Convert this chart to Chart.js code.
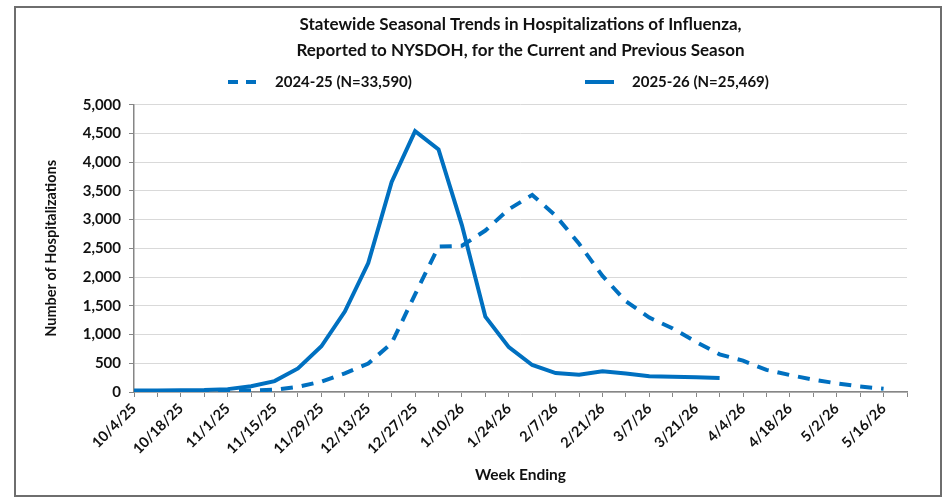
<!DOCTYPE html>
<html>
<head>
<meta charset="utf-8">
<script src="https://cdn.jsdelivr.net/npm/chart.js@4.4.1/dist/chart.umd.min.js"></script>
<style>
    html, body { margin: 0; padding: 0; background: #fff; }
    #marco { position: relative; width: 952px; height: 501px; }
    #borde { position: absolute; left: 14px; top: 6px; width: 928px; height: 491px; border: 2px solid #6e6e6e; box-sizing: border-box; pointer-events: none; }
</style>
</head>
<body>
<div id="marco">
    <canvas id="hospitalizaciones" width="952" height="501"></canvas>
    <div id="borde"></div>
</div>
<script>
// Semanas (fin de semana) del eje X, se etiqueta una si y otra no
const semanas = [
    '10/4/25', '10/11/25', '10/18/25', '10/25/25', '11/1/25', '11/8/25', '11/15/25', '11/22/25',
    '11/29/25', '12/6/25', '12/13/25', '12/20/25', '12/27/25', '1/3/26', '1/10/26', '1/17/26',
    '1/24/26', '1/31/26', '2/7/26', '2/14/26', '2/21/26', '2/28/26', '3/7/26', '3/14/26',
    '3/21/26', '3/28/26', '4/4/26', '4/11/26', '4/18/26', '4/25/26', '5/2/26', '5/9/26',
    '5/16/26', '5/23/26'
];

// Temporada anterior (linea discontinua)
const temporada2425 = [
    10, 12, 15, 18, 22, 25, 40, 90, 180, 325, 495, 850, 1700, 2530, 2545, 2810,
    3180, 3430, 3070, 2580, 2020, 1580, 1295, 1105, 870, 655, 545, 385, 295, 215,
    150, 95, 55
];

// Temporada actual (linea continua), termina en 3/28/26
const temporada2526 = [
    25, 25, 30, 35, 50, 100, 190, 410, 795, 1400, 2245, 3655, 4540, 4220, 2900, 1310,
    780, 470, 330, 300, 360, 320, 275, 265, 258, 245
];

const nombresSeries = ['2024-25 (N=33,590)', '2025-26 (N=25,469)'];
const tituloGrafica = [
    'Statewide Seasonal Trends in Hospitalizations of Influenza,',
    'Reported to NYSDOH, for the Current and Previous Season'
];
const limitesY = [0, 5000];
const pasoY = 500;

const azul = '#0070C0';
const fuente = 'Lato, "Open Sans", sans-serif';
Chart.defaults.font.family = fuente;
Chart.defaults.color = '#111';

// Leyenda dibujada a mano para poder separar los dos elementos como en el original
const leyendaFija = {
    id: 'leyendaFija',
    afterDraw(chart) {
        const ctx = chart.ctx;
        const posiciones = [228, 585];
        const y = 82;
        ctx.save();
        chart.data.datasets.forEach((ds, i) => {
            const x = posiciones[i];
            ctx.beginPath();
            ctx.strokeStyle = ds.borderColor;
            ctx.lineWidth = ds.borderWidth;
            ctx.setLineDash(i === 0 ? [10, 8] : []);
            ctx.moveTo(x, y);
            ctx.lineTo(x + 29, y);
            ctx.stroke();
            ctx.setLineDash([]);
            ctx.fillStyle = '#111';
            ctx.font = 'bold 15px ' + fuente;
            ctx.textBaseline = 'middle';
            ctx.textAlign = 'left';
            ctx.fillText(ds.label, x + 47, y);
        });
        ctx.restore();
    }
};

document.addEventListener("DOMContentLoaded", function() {
    const lienzo = document.getElementById('hospitalizaciones').getContext('2d');

    new Chart(lienzo, {
        type: 'line',
        data: {
            labels: semanas,
            datasets: [{
                label: nombresSeries[0],
                data: temporada2425,
                borderColor: azul,
                borderWidth: 4,
                borderDash: [12, 9],
                pointRadius: 0,
                tension: 0,
                fill: false
            }, {
                label: nombresSeries[1],
                data: temporada2526,
                borderColor: azul,
                borderWidth: 4,
                pointRadius: 0,
                tension: 0,
                fill: false
            }]
        },
        options: {
            responsive: false,
            animation: false,
            layout: { padding: { left: 0, right: 45, top: 11, bottom: 0 } },
            plugins: {
                legend: { display: false },
                tooltip: { enabled: false },
                title: {
                    display: true,
                    fullSize: false,
                    text: tituloGrafica,
                    color: '#111',
                    font: { size: 17, weight: 'bold', lineHeight: 1.55 },
                    padding: { top: 0, bottom: 41 }
                }
            },
            scales: {
                x: {
                    offset: false,
                    grid: { drawOnChartArea: false, drawTicks: true, tickLength: 5, tickColor: '#868686' },
                    border: { color: '#868686', width: 1.5 },
                    ticks: {
                        autoSkip: false,
                        maxRotation: 45,
                        minRotation: 45,
                        padding: 3,
                        color: '#111',
                        font: { size: 14.5, weight: 'bold' },
                        callback: (valor, indice) => indice % 2 === 0 ? semanas[indice] : ''
                    },
                    title: {
                        display: true,
                        text: 'Week Ending',
                        color: '#111',
                        font: { size: 15.5, weight: 'bold' },
                        padding: { top: 4, bottom: 17 }
                    },
                    afterFit: escala => { escala.height = 109; }
                },
                y: {
                    min: limitesY[0],
                    max: limitesY[1],
                    grid: { color: '#d9d9d9', lineWidth: 1, tickLength: 5, tickColor: '#868686' },
                    border: { color: '#868686', width: 1.5 },
                    ticks: {
                        stepSize: pasoY,
                        padding: 8,
                        color: '#111',
                        font: { size: 15, weight: 'bold' },
                        callback: valor => valor.toLocaleString('en-US')
                    },
                    title: {
                        display: true,
                        text: 'Number of Hospitalizations',
                        color: '#111',
                        font: { size: 14.5, weight: 'bold' },
                        padding: { top: 43, bottom: 0 }
                    },
                    afterFit: escala => { escala.width = 134; }
                }
            }
        },
        plugins: [leyendaFija]
    });
});
</script>
</body>
</html>
